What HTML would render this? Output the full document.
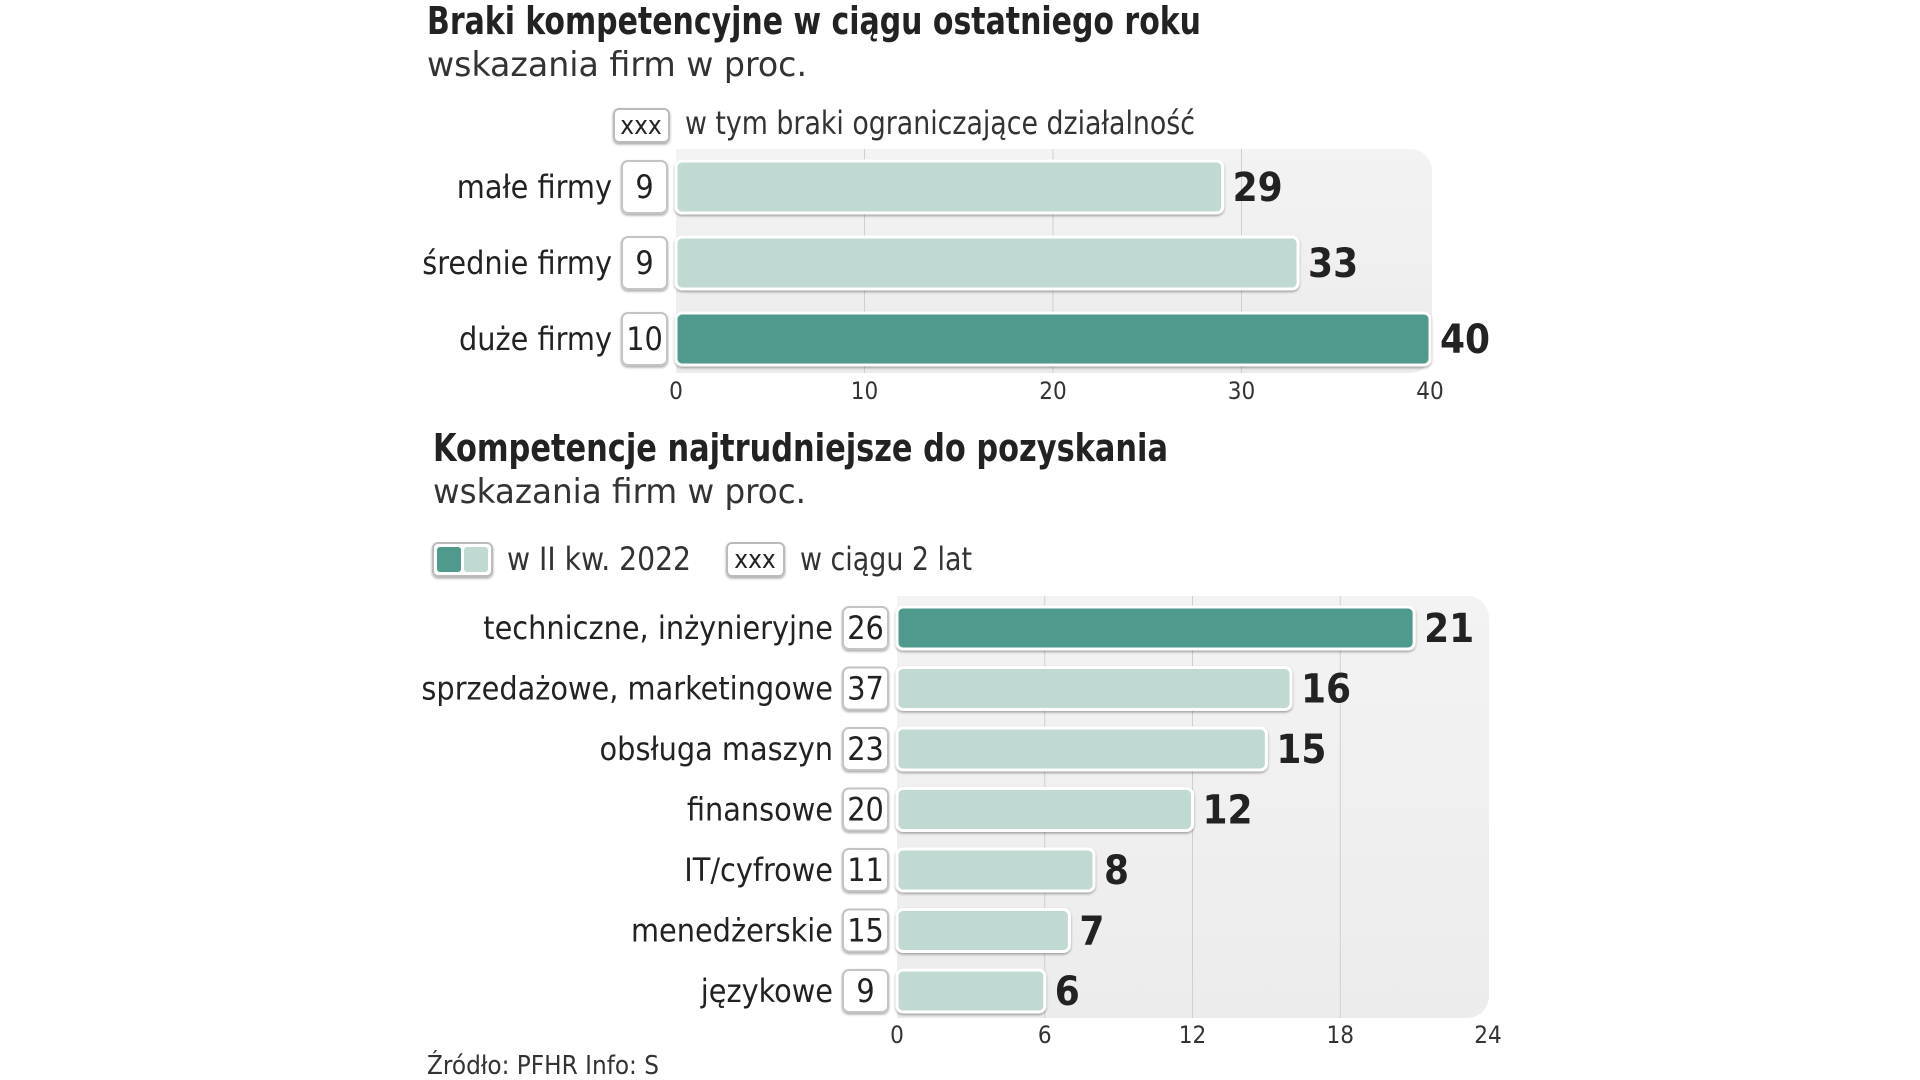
<!DOCTYPE html>
<html><head><meta charset="utf-8">
<style>
html,body{margin:0;padding:0;background:#fff;width:1920px;height:1080px;overflow:hidden}
svg{display:block}
text{font-family:"Liberation Sans Narrow","DejaVu Sans Condensed","Liberation Sans",sans-serif;fill:#222}
.light{font-family:"DejaVu Sans Condensed","Liberation Sans Narrow","Liberation Sans",sans-serif;font-weight:300;fill:#333}
</style></head>
<body>
<svg id="chart" width="1920" height="1080" viewBox="0 0 1920 1080">
<defs>
<linearGradient id="pg" x1="0" y1="0" x2="0" y2="1"><stop offset="0" stop-color="#f3f3f3"/><stop offset="1" stop-color="#ececec"/></linearGradient>
<filter id="sh" x="-5%" y="-20%" width="110%" height="150%"><feDropShadow dx="0" dy="1.5" stdDeviation="1.2" flood-color="#000" flood-opacity="0.35"/></filter>
</defs>
<g>
<text x="427" y="34" font-size="38" font-weight="bold" textLength="774" lengthAdjust="spacingAndGlyphs">Braki kompetencyjne w ciągu ostatniego roku</text>
<text class="light" x="427" y="76" font-size="34" textLength="380" lengthAdjust="spacingAndGlyphs">wskazania  firm w proc.</text>
<g>
<rect x="614" y="109" width="55" height="33" rx="5" fill="#fff" stroke="#bbb" stroke-width="2" filter="url(#sh)"/>
<text x="641" y="134" font-size="26" text-anchor="middle">xxx</text>
<text class="light" x="685" y="134" font-size="32" textLength="510" lengthAdjust="spacingAndGlyphs">w tym braki ograniczające działalność</text>
</g>
</g>
<g id="top"></g>
<g>
<text x="433" y="461" font-size="38" font-weight="bold" textLength="735" lengthAdjust="spacingAndGlyphs">Kompetencje najtrudniejsze do pozyskania</text>
<text class="light" x="433" y="503" font-size="34" textLength="373" lengthAdjust="spacingAndGlyphs">wskazania firm w proc.</text>
<g>
<rect x="433" y="543" width="59" height="33" rx="5" fill="#fff" stroke="#bbb" stroke-width="2" filter="url(#sh)"/>
<rect x="437" y="547" width="24" height="25" rx="3" fill="#4f9a8c"/>
<rect x="464" y="547" width="24" height="25" rx="3" fill="#c0d9d2"/>
<text class="light" x="507" y="570" font-size="32" textLength="184" lengthAdjust="spacingAndGlyphs">w II kw. 2022</text>
<rect x="727" y="543" width="57" height="33" rx="5" fill="#fff" stroke="#bbb" stroke-width="2" filter="url(#sh)"/>
<text x="755" y="568" font-size="26" text-anchor="middle">xxx</text>
<text class="light" x="800" y="570" font-size="32" textLength="172" lengthAdjust="spacingAndGlyphs">w ciągu 2 lat</text>
</g>
</g>
<g id="bottom"></g>
<text class="light" x="427" y="1074" font-size="26" textLength="232" lengthAdjust="spacingAndGlyphs">Źródło: PFHR   Info: S</text>
</svg>
<script>
var topCategories = ["małe firmy", "średnie firmy", "duże firmy"];
var topValues = [29, 33, 40];
var topSubValues = [9, 9, 10];
var topTicks = [0, 10, 20, 30, 40];
var topHighlight = [false, false, true];

var botCategories = ["techniczne, inżynieryjne", "sprzedażowe, marketingowe", "obsługa maszyn", "finansowe", "IT/cyfrowe", "menedżerskie", "językowe"];
var botValues = [21, 16, 15, 12, 8, 7, 6];
var botSubValues = [26, 37, 23, 20, 11, 15, 9];
var botTicks = [0, 6, 12, 18, 24];
var botHighlight = [true, false, false, false, false, false, false];

var NS = "http://www.w3.org/2000/svg";
function mk(parent, tag, attrs, txt) {
  var e = document.createElementNS(NS, tag);
  for (var k in attrs) e.setAttribute(k, attrs[k]);
  if (txt !== undefined) e.textContent = txt;
  parent.appendChild(e);
  return e;
}
function draw(g, cfg) {
  var xs = function (v) { return cfg.x0 + (v - cfg.dmin) / (cfg.dmax - cfg.dmin) * (cfg.x1 - cfg.x0); };
  var ys = function (i) { return cfg.yFirst + i * cfg.step; };
  var panel = mk(g, "rect", {x: xs(cfg.dmin), y: cfg.pTop, width: cfg.pRight - xs(cfg.dmin), height: cfg.pBot - cfg.pTop, rx: 22, fill: "url(#pg)"});
  
  
  mk(g, "rect", {x: xs(cfg.dmin), y: cfg.pTop, width: 30, height: cfg.pBot - cfg.pTop, fill: "url(#pg)"});
  cfg.ticks.forEach(function (t, i) {
    if (i > 0 && i < cfg.ticks.length - 1) {
      var gl = mk(g, "line", {x1: xs(t), x2: xs(t), y1: cfg.pTop, y2: cfg.pBot, stroke: "#cfcfcf", "stroke-width": 1});
      
      
    }
    var tl = mk(g, "text", {x: xs(t), y: cfg.tickY, "font-size": 24, "text-anchor": "middle", "class": "light"}, String(t));
    
    
  });
  cfg.cats.forEach(function (c, i) {
    var cy = ys(i), h = cfg.barH;
    var lab = mk(g, "text", {x: cfg.labelRight, y: cy + 11, "font-size": cfg.labelFs, "text-anchor": "end"}, c);
    
    
    var box = mk(g, "rect", {x: cfg.boxX, y: cy - h / 2, width: cfg.boxW, height: h, rx: 6, fill: "#fff", stroke: "#c4c4c4", "stroke-width": 2, filter: "url(#sh)"});
    
    
    var bt = mk(g, "text", {x: cfg.boxX + cfg.boxW / 2, y: cy + 11, "font-size": cfg.labelFs, "text-anchor": "middle"}, String(cfg.sub[i]));
    
    
    var w = xs(cfg.vals[i]) - xs(cfg.dmin);
    var bar = mk(g, "rect", {x: xs(cfg.dmin), y: cy - h / 2, width: w, height: h, rx: 6, fill: cfg.hl[i] ? "#4f9a8c" : "#c0d9d2", stroke: "#fff", "stroke-width": 3, filter: "url(#sh)"});
    
    
    var vt = mk(g, "text", {x: xs(cfg.vals[i]) + 10, y: cy + 14, "font-size": 40, "font-weight": "bold"}, String(cfg.vals[i]));
    
    
  });
}
draw(document.getElementById("top"), {
  cats: topCategories, vals: topValues, sub: topSubValues, ticks: topTicks, hl: topHighlight,
  dmin: 0, dmax: 40, x0: 676, x1: 1430, yFirst: 187, step: 76, barH: 52,
  pTop: 149, pBot: 373, pRight: 1432, tickY: 399, labelRight: 612, labelFs: 32, boxX: 622, boxW: 45
});
draw(document.getElementById("bottom"), {
  cats: botCategories, vals: botValues, sub: botSubValues, ticks: botTicks, hl: botHighlight,
  dmin: 0, dmax: 24, x0: 897, x1: 1488, yFirst: 628, step: 60.5, barH: 42,
  pTop: 596, pBot: 1018, pRight: 1489, tickY: 1043, labelRight: 833, labelFs: 32, boxX: 843, boxW: 45
});
</script>
</body></html>
